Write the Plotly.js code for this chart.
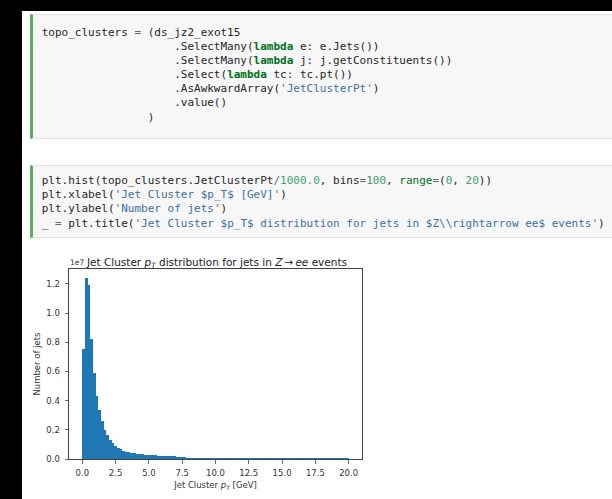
<!DOCTYPE html>
<html>
<head>
<meta charset="utf-8">
<script src="https://cdn.plot.ly/plotly-3.0.1.min.js"></script>
<style>
html,body{margin:0;padding:0;background:#000;width:612px;height:499px;overflow:hidden;position:relative;}
#page{position:absolute;left:22px;top:11px;width:590px;height:488px;background:#fff;}
.cell{position:absolute;left:30px;width:600px;background:#f7f7f7;border:1px solid #e0e0e0;border-left:3px solid #5cad5e;box-sizing:border-box;}
.code{position:absolute;left:41.7px;font-family:'DejaVu Sans Mono',monospace;font-size:11px;line-height:14.2px;color:#262626;white-space:normal;}
.ln{height:14.2px;white-space:pre;}
.t{color:#262626;}
.k{color:#007020;font-weight:bold;}
.b{color:#007020;}
.s{color:#4070a0;}
.n{color:#40a070;}
.o{color:#666;}
#chart{position:absolute;left:0;top:240px;width:380px;height:259px;}
</style>
</head>
<body>
<div id="page"></div>
<div class="cell" style="top:14px;height:125px;"></div>
<div class="code" style="top:25.5px;"><div class="ln"><span class="t">topo_clusters </span><span class="o">=</span><span class="t"> (ds_jz2_exot15</span></div><div class="ln"><span class="t">                    .SelectMany(</span><span class="k">lambda</span><span class="t"> e: e.Jets())</span></div><div class="ln"><span class="t">                    .SelectMany(</span><span class="k">lambda</span><span class="t"> j: j.getConstituents())</span></div><div class="ln"><span class="t">                    .Select(</span><span class="k">lambda</span><span class="t"> tc: tc.pt())</span></div><div class="ln"><span class="t">                    .AsAwkwardArray(</span><span class="s">'JetClusterPt'</span><span class="t">)</span></div><div class="ln"><span class="t">                    .value()</span></div><div class="ln"><span class="t">                )</span></div></div>
<div class="cell" style="top:165px;height:73px;"></div>
<div class="code" style="top:174px;"><div class="ln"><span class="t">plt.hist(topo_clusters.JetClusterPt</span><span class="o">/</span><span class="n">1000.0</span><span class="t">, bins</span><span class="o">=</span><span class="n">100</span><span class="t">, </span><span class="b">range</span><span class="o">=</span><span class="t">(</span><span class="n">0</span><span class="t">, </span><span class="n">20</span><span class="t">))</span></div><div class="ln"><span class="t">plt.xlabel(</span><span class="s">'Jet Cluster $p_T$ [GeV]'</span><span class="t">)</span></div><div class="ln"><span class="t">plt.ylabel(</span><span class="s">'Number of jets'</span><span class="t">)</span></div><div class="ln"><span class="t">_ </span><span class="o">=</span><span class="t"> plt.title(</span><span class="s">'Jet Cluster $p_T$ distribution for jets in $Z\\rightarrow ee$ events'</span><span class="t">)</span></div></div>
<div id="chart"></div>
<script>
// Histogram: 100 bins over (0, 20) GeV
const binStart = 0;
const binWidth = 0.2;
const counts = [
  7.55e6, 1.240e7, 1.195e7, 8.20e6, 5.88e6, 4.35e6, 3.33e6, 2.60e6, 2.00e6, 1.62e6,
  1.30e6, 1.07e6, 9.0e5, 7.7e5, 6.6e5, 5.7e5, 5.0e5, 4.6e5, 4.2e5, 3.9e5,
  3.6e5, 3.4e5, 3.2e5, 3.0e5, 2.9e5, 2.7e5, 2.6e5, 2.5e5, 2.4e5, 2.3e5,
  2.1e5, 2.0e5, 1.9e5, 1.8e5, 1.8e5, 1.7e5, 1.6e5, 1.6e5, 1.05e5, 1.02e5,
  9.9e4, 9.6e4, 9.3e4, 9.0e4, 8.8e4, 8.6e4, 8.4e4, 8.2e4, 8.0e4, 7.8e4,
  5.6e4, 5.5e4, 5.5e4, 5.4e4, 5.3e4, 5.3e4, 5.2e4, 5.1e4, 5.1e4, 5.0e4,
  4.9e4, 4.9e4, 4.8e4, 4.8e4, 4.7e4, 4.7e4, 4.6e4, 4.6e4, 4.5e4, 4.5e4,
  4.4e4, 4.4e4, 4.3e4, 4.3e4, 4.2e4, 4.2e4, 4.1e4, 4.1e4, 4.0e4, 4.0e4,
  4.0e4, 3.9e4, 3.9e4, 3.9e4, 3.8e4, 3.8e4, 3.8e4, 3.7e4, 3.7e4, 3.7e4,
  3.6e4, 3.6e4, 3.6e4, 3.6e4, 3.6e4, 3.5e4, 3.5e4, 3.5e4, 3.5e4, 3.5e4
];
const xTickVals = [0, 2.5, 5, 7.5, 10, 12.5, 15, 17.5, 20];
const xTickText = ['0.0', '2.5', '5.0', '7.5', '10.0', '12.5', '15.0', '17.5', '20.0'];
const yTickVals = [0, 0.2e7, 0.4e7, 0.6e7, 0.8e7, 1.0e7, 1.2e7];
const yTickText = ['0.0', '0.2', '0.4', '0.6', '0.8', '1.0', '1.2'];
const titleText = 'Jet Cluster <i>p</i><sub><i>T</i></sub> distribution for jets in <i>Z</i>\u2009\u2192\u2009<i>ee</i> events';
const xLabel = 'Jet Cluster <i>p</i><sub><i>T</i></sub> [GeV]';
const yLabel = 'Number of jets';
const offsetText = '1e7';

const centers = counts.map((_, i) => binStart + binWidth * (i + 0.5));
const ymax = Math.max(...counts) * 1.05;
const xmin = binStart - 1, xmax = binStart + binWidth * counts.length + 1;

const font = {family: 'DejaVu Sans, sans-serif', size: 8.5, color: '#333'};
const axisCommon = {
  showline: true, mirror: true, linecolor: '#444', linewidth: 1,
  ticks: 'outside', ticklen: 3.5, tickwidth: 0.8, tickcolor: '#444',
  showgrid: false, zeroline: false, tickfont: font, tickmode: 'array'
};

Plotly.newPlot('chart', [{
  type: 'bar', x: centers, y: counts, width: binWidth,
  marker: {color: '#1f77b4', line: {width: 0}},
  hoverinfo: 'skip'
}], {
  width: 380, height: 259,
  margin: {l: 69, r: 18, t: 29, b: 40, pad: 0},
  paper_bgcolor: 'rgba(0,0,0,0)', plot_bgcolor: '#fff',
  bargap: 0, showlegend: false,
  font: font,
  title: {text: titleText, font: {family: 'DejaVu Sans, sans-serif', size: 10.5, color: '#222'},
          x: 0.505, xref: 'paper', xanchor: 'center', y: 1, yref: 'paper', yanchor: 'bottom', pad: {b: 3}},
  xaxis: Object.assign({}, axisCommon, {range: [xmin, xmax], tickvals: xTickVals, ticktext: xTickText,
    ticklabelstandoff: 2, title: {text: xLabel, font: font, standoff: 5}}),
  yaxis: Object.assign({}, axisCommon, {range: [0, ymax], tickvals: yTickVals, ticktext: yTickText,
    ticklabelstandoff: 3, title: {text: yLabel, font: font, standoff: 4}}),
  annotations: [{text: offsetText, xref: 'paper', yref: 'paper', x: 0, y: 1, xanchor: 'left', yanchor: 'bottom',
    showarrow: false, font: {family: 'DejaVu Sans, sans-serif', size: 7.5, color: '#333'}, borderpad: 0, yshift: 1}]
}, {displayModeBar: false, staticPlot: true});
</script>
</body>
</html>
